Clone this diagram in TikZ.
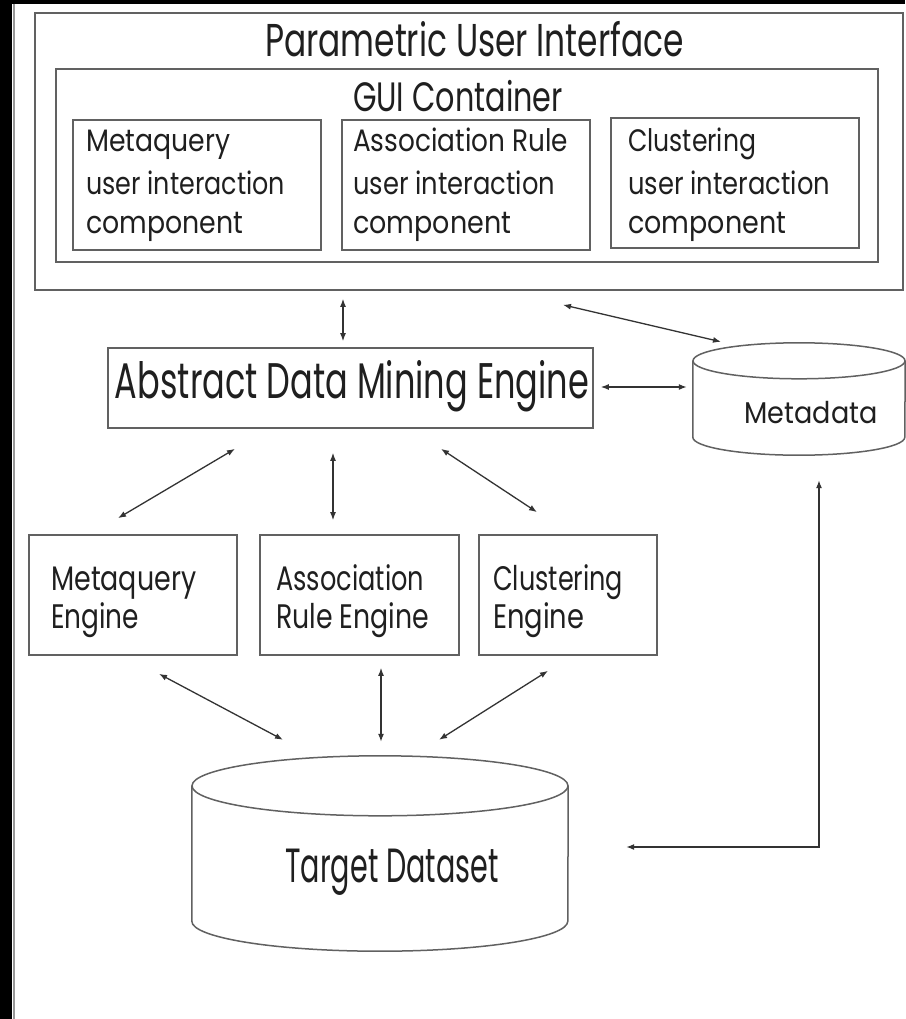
\documentclass[tikz,border=0pt]{standalone}
\usepackage{graphicx}
\usepackage{fontspec}
\setmainfont{Poppins}
\usetikzlibrary{arrows.meta,calc}

% set a label to a given width by squeezing it horizontally
\newsavebox\fitbox
\newlength\fitlen
\newcommand\fitw[2]{\sbox\fitbox{#2}\setlength\fitlen{\wd\fitbox}%
  \pgfmathsetmacro\fitr{#1/\fitlen}\scalebox{\fitr}[1]{\usebox\fitbox}}
\newcommand\uifont{\fontsize{31}{36}\selectfont}
\newcommand\engfont{\fontsize{34}{40}\selectfont}

\begin{document}
\begin{tikzpicture}[x=1pt,y=-1pt,
  frame/.style={draw=black!62, line width=1.7pt, inner sep=0pt},
  hold/.style={inner sep=0pt},
  txt/.style={inner sep=0pt, anchor=base west, text=black!88},
  ctxt/.style={inner sep=0pt, anchor=base, text=black!88},
  cyl/.style={draw=black!62, line width=1.5pt},
  link/.style={draw=black!80, line width=1.3pt,
    {Latex[length=8pt,width=6pt]}-{Latex[length=8pt,width=6pt]}},
]
\useasboundingbox (0,0) rectangle (905,1019);
\fill[black] (0,0) rectangle (905,1019);
\fill[white] (12,4) rectangle (905,1019);
\draw[black!40, line width=2pt] (14,4) -- (14,1019);

% user interface layer
\node[frame, minimum width=868pt, minimum height=277pt] (pui) at (469,151.5) {};
\node[frame, minimum width=822pt, minimum height=193pt] (gui) at (467,165.5) {};
\node[frame, minimum width=248pt, minimum height=130pt] (ui1) at (197,185) {};
\node[frame, minimum width=248pt, minimum height=130pt] (ui2) at (466,185) {};
\node[frame, minimum width=248pt, minimum height=130pt] (ui3) at (735,183) {};

\node[ctxt] (puit) at (474.5,57) {\fontsize{46}{50}\selectfont\fitw{419}{Parametric User Interface}};
\node[ctxt] (guit) at (458,112) {\fontsize{41}{46}\selectfont\fitw{210}{GUI Container}};

\node[txt] (ui1a) at (86,152) {\uifont\fitw{144}{Metaquery}};
\node[txt] (ui1b) at (86,194) {\uifont\fitw{199}{user interaction}};
\node[txt] (ui1c) at (86,233) {\uifont\fitw{157}{component}};

\node[txt] (ui2a) at (353,152) {\uifont\fitw{215}{Association Rule}};
\node[txt] (ui2b) at (353,194) {\uifont\fitw{202}{user interaction}};
\node[txt] (ui2c) at (353,233) {\uifont\fitw{158}{component}};

\node[txt] (ui3a) at (628,152) {\uifont\fitw{128}{Clustering}};
\node[txt] (ui3b) at (628,194) {\uifont\fitw{202}{user interaction}};
\node[txt] (ui3c) at (628,233) {\uifont\fitw{158}{component}};

% engine layer
\node[frame, minimum width=485pt, minimum height=80pt] (adme) at (350.5,388) {};
\node[ctxt] (admet) at (352,398) {\fontsize{50}{56}\selectfont\fitw{474}{Abstract Data Mining Engine}};

\node[frame, minimum width=208pt, minimum height=120pt] (meng) at (133,595) {};
\node[frame, minimum width=199pt, minimum height=120pt] (aeng) at (359.5,595) {};
\node[frame, minimum width=178pt, minimum height=120pt] (ceng) at (568,595) {};

\node[txt] (menga) at (51,590) {\engfont\fitw{145}{Metaquery}};
\node[txt] (mengb) at (51,628) {\engfont\fitw{88}{Engine}};
\node[txt] (aenga) at (276,590) {\engfont\fitw{148}{Association}};
\node[txt] (aengb) at (276,628) {\engfont\fitw{153}{Rule Engine}};
\node[txt] (cenga) at (493,590) {\engfont\fitw{130}{Clustering}};
\node[txt] (cengb) at (493,628) {\engfont\fitw{91}{Engine}};

% data stores
\node[hold, minimum width=212pt, minimum height=112pt] (meta) at (799,399) {};
\draw[cyl] ($(meta.north)+(0,18)$) ellipse [x radius=106pt, y radius=18pt];
\draw[cyl] ($(meta.north west)+(0,18)$) -- ($(meta.south west)+(0,-18)$)
  arc[start angle=180, end angle=360, x radius=106pt, y radius=18pt]
  -- ($(meta.north east)+(0,18)$);
\node[ctxt] (metat) at (811,423) {\fontsize{30}{34}\selectfont\fitw{133}{Metadata}};

\node[hold, minimum width=376pt, minimum height=195pt] (target) at (380,853.5) {};
\draw[cyl] ($(target.north)+(0,30)$) ellipse [x radius=188pt, y radius=30pt];
\draw[cyl] ($(target.north west)+(0,30)$) -- ($(target.south west)+(0,-30)$)
  arc[start angle=180, end angle=360, x radius=188pt, y radius=30pt]
  -- ($(target.north east)+(0,30)$);
\node[ctxt] (targett) at (392,882) {\fontsize{48}{54}\selectfont\fitw{213}{Target Dataset}};

% connectors
\draw[link] ($(pui.south)+(-126,8)$) -- ($(adme.north)+(-7.5,-6)$);
\draw[link] ($(pui.south)+(94,14)$) -- ($(meta.north)+(-78,-1)$);
\draw[link] ($(adme.east)+(7,-1)$) -- ($(meta.west)+(-6,-12)$);
\draw[link] ($(adme.south)+(-115.5,20)$) -- ($(meng.north)+(-15,-16)$);
\draw[link] ($(adme.south)+(-17.5,24)$) -- ($(aeng.north)+(-26.5,-14)$);
\draw[link] ($(adme.south)+(90.5,20)$) -- ($(ceng.north)+(-31,-22)$);
\draw[link] ($(meng.south)+(26,18)$) -- ($(target.north)+(-97,-16)$);
\draw[link] ($(aeng.south)+(21.5,12)$) -- ($(target.north)+(1,-14)$);
\draw[link] ($(ceng.south)+(-20,15)$) -- ($(target.north)+(59,-16)$);
\draw[link] ($(meta.south)+(20,25)$) |- ($(target.east)+(58,-6.5)$);
\end{tikzpicture}
\end{document}
